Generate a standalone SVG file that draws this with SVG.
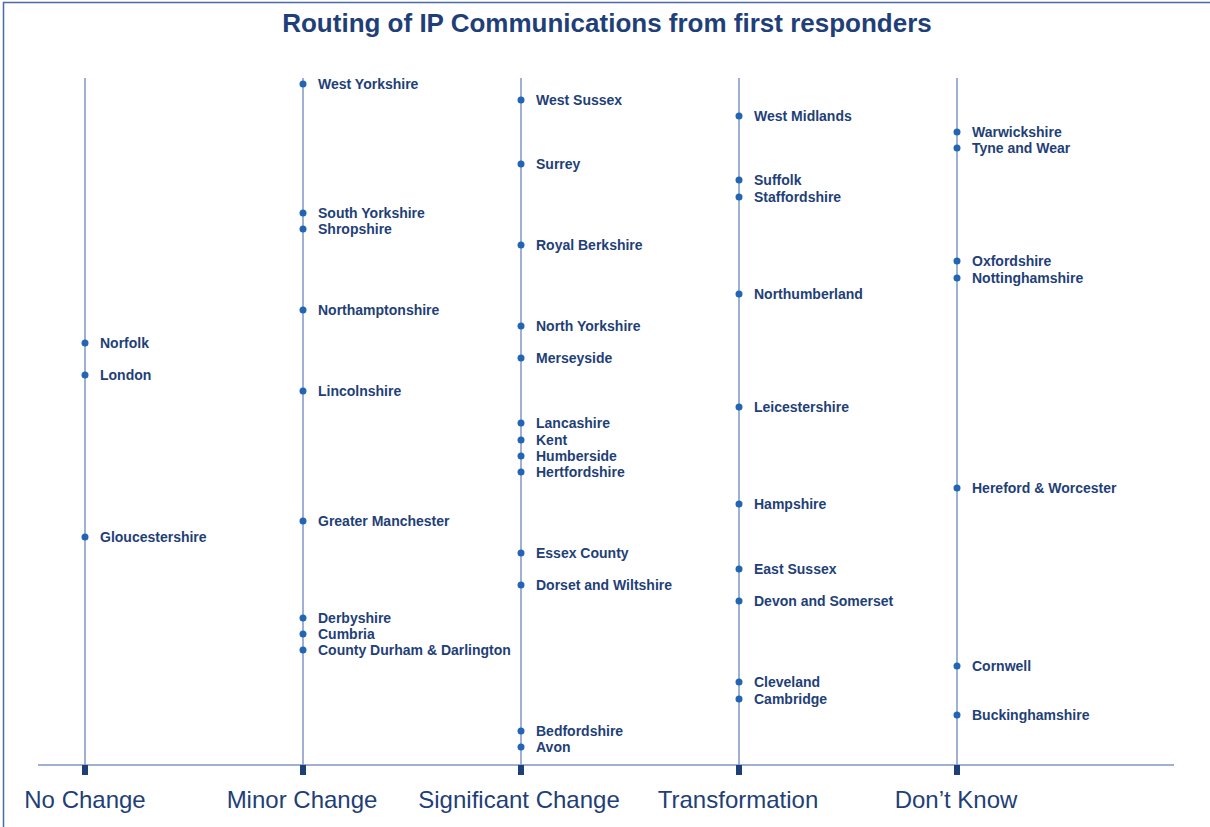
<svg xmlns="http://www.w3.org/2000/svg" width="1210" height="827" viewBox="0 0 1210 827">
<style>
.lbl{font-family:"Liberation Sans",Arial,sans-serif;font-weight:bold;font-size:14px;fill:#1f3f78}
.ax{font-family:"Liberation Sans",Arial,sans-serif;font-size:24px;fill:#1f3f78;text-anchor:middle}
.title{font-family:"Liberation Sans",Arial,sans-serif;font-weight:bold;font-size:26px;fill:#1f3f78;text-anchor:middle}
.vl{stroke:#8194c6;stroke-width:1.5}
.dot{fill:#2265b2}
.tick{fill:#1f3f78}
</style>
<rect width="1210" height="827" fill="#fff"/>
<path d="M3.5 827V2.5H1210" fill="none" stroke="#4a6aa8" stroke-width="1.5"/>
<text class="title" x="607" y="32">Routing of IP Communications from first responders</text>
<g id="connectors">
<line class="vl" x1="85" y1="78" x2="85" y2="765"/>
<line class="vl" x1="303" y1="78" x2="303" y2="765"/>
<line class="vl" x1="521" y1="78" x2="521" y2="765"/>
<line class="vl" x1="739" y1="78" x2="739" y2="765"/>
<line class="vl" x1="957" y1="78" x2="957" y2="765"/>
<line class="vl" x1="38" y1="765" x2="1174" y2="765"/>
</g>
<g id="axis">
<rect class="tick" x="82" y="765" width="6" height="10"/>
<rect class="tick" x="300" y="765" width="6" height="10"/>
<rect class="tick" x="518" y="765" width="6" height="10"/>
<rect class="tick" x="736" y="765" width="6" height="10"/>
<rect class="tick" x="954" y="765" width="6" height="10"/>
<text class="ax" x="85" y="808">No Change</text>
<text class="ax" x="302" y="808">Minor Change</text>
<text class="ax" x="519" y="808">Significant Change</text>
<text class="ax" x="738" y="808">Transformation</text>
<text class="ax" x="956" y="808">Don’t Know</text>
</g>
<g id="col-no-change">
<g id="n-norfolk"><circle class="dot" cx="85" cy="343" r="3.5"/><text class="lbl" x="100" y="348">Norfolk</text></g>
<g id="n-london"><circle class="dot" cx="85" cy="375" r="3.5"/><text class="lbl" x="100" y="380">London</text></g>
<g id="n-gloucestershire"><circle class="dot" cx="85" cy="537" r="3.5"/><text class="lbl" x="100" y="542">Gloucestershire</text></g>
</g>
<g id="col-minor">
<g id="n-westyorkshire"><circle class="dot" cx="303" cy="84" r="3.5"/><text class="lbl" x="318" y="89">West Yorkshire</text></g>
<g id="n-southyorkshire"><circle class="dot" cx="303" cy="213" r="3.5"/><text class="lbl" x="318" y="218">South Yorkshire</text></g>
<g id="n-shropshire"><circle class="dot" cx="303" cy="229" r="3.5"/><text class="lbl" x="318" y="234">Shropshire</text></g>
<g id="n-northamptonshire"><circle class="dot" cx="303" cy="310" r="3.5"/><text class="lbl" x="318" y="315">Northamptonshire</text></g>
<g id="n-lincolnshire"><circle class="dot" cx="303" cy="391" r="3.5"/><text class="lbl" x="318" y="396">Lincolnshire</text></g>
<g id="n-greatermanchester"><circle class="dot" cx="303" cy="521" r="3.5"/><text class="lbl" x="318" y="526">Greater Manchester</text></g>
<g id="n-derbyshire"><circle class="dot" cx="303" cy="618" r="3.5"/><text class="lbl" x="318" y="623">Derbyshire</text></g>
<g id="n-cumbria"><circle class="dot" cx="303" cy="634" r="3.5"/><text class="lbl" x="318" y="639">Cumbria</text></g>
<g id="n-durham"><circle class="dot" cx="303" cy="650" r="3.5"/><text class="lbl" x="318" y="655">County Durham &amp; Darlington</text></g>
</g>
<g id="col-significant">
<g id="n-westsussex"><circle class="dot" cx="521" cy="100" r="3.5"/><text class="lbl" x="536" y="105">West Sussex</text></g>
<g id="n-surrey"><circle class="dot" cx="521" cy="164" r="3.5"/><text class="lbl" x="536" y="169">Surrey</text></g>
<g id="n-royalberkshire"><circle class="dot" cx="521" cy="245" r="3.5"/><text class="lbl" x="536" y="250">Royal Berkshire</text></g>
<g id="n-northyorkshire"><circle class="dot" cx="521" cy="326" r="3.5"/><text class="lbl" x="536" y="331">North Yorkshire</text></g>
<g id="n-merseyside"><circle class="dot" cx="521" cy="358" r="3.5"/><text class="lbl" x="536" y="363">Merseyside</text></g>
<g id="n-lancashire"><circle class="dot" cx="521" cy="423" r="3.5"/><text class="lbl" x="536" y="428">Lancashire</text></g>
<g id="n-kent"><circle class="dot" cx="521" cy="440" r="3.5"/><text class="lbl" x="536" y="445">Kent</text></g>
<g id="n-humberside"><circle class="dot" cx="521" cy="456" r="3.5"/><text class="lbl" x="536" y="461">Humberside</text></g>
<g id="n-hertfordshire"><circle class="dot" cx="521" cy="472" r="3.5"/><text class="lbl" x="536" y="477">Hertfordshire</text></g>
<g id="n-essex"><circle class="dot" cx="521" cy="553" r="3.5"/><text class="lbl" x="536" y="558">Essex County</text></g>
<g id="n-dorset"><circle class="dot" cx="521" cy="585" r="3.5"/><text class="lbl" x="536" y="590">Dorset and Wiltshire</text></g>
<g id="n-bedfordshire"><circle class="dot" cx="521" cy="731" r="3.5"/><text class="lbl" x="536" y="736">Bedfordshire</text></g>
<g id="n-avon"><circle class="dot" cx="521" cy="747" r="3.5"/><text class="lbl" x="536" y="752">Avon</text></g>
</g>
<g id="col-transformation">
<g id="n-westmidlands"><circle class="dot" cx="739" cy="116" r="3.5"/><text class="lbl" x="754" y="121">West Midlands</text></g>
<g id="n-suffolk"><circle class="dot" cx="739" cy="180" r="3.5"/><text class="lbl" x="754" y="185">Suffolk</text></g>
<g id="n-staffordshire"><circle class="dot" cx="739" cy="197" r="3.5"/><text class="lbl" x="754" y="202">Staffordshire</text></g>
<g id="n-northumberland"><circle class="dot" cx="739" cy="294" r="3.5"/><text class="lbl" x="754" y="299">Northumberland</text></g>
<g id="n-leicestershire"><circle class="dot" cx="739" cy="407" r="3.5"/><text class="lbl" x="754" y="412">Leicestershire</text></g>
<g id="n-hampshire"><circle class="dot" cx="739" cy="504" r="3.5"/><text class="lbl" x="754" y="509">Hampshire</text></g>
<g id="n-eastsussex"><circle class="dot" cx="739" cy="569" r="3.5"/><text class="lbl" x="754" y="574">East Sussex</text></g>
<g id="n-devon"><circle class="dot" cx="739" cy="601" r="3.5"/><text class="lbl" x="754" y="606">Devon and Somerset</text></g>
<g id="n-cleveland"><circle class="dot" cx="739" cy="682" r="3.5"/><text class="lbl" x="754" y="687">Cleveland</text></g>
<g id="n-cambridge"><circle class="dot" cx="739" cy="699" r="3.5"/><text class="lbl" x="754" y="704">Cambridge</text></g>
</g>
<g id="col-dontknow">
<g id="n-warwickshire"><circle class="dot" cx="957" cy="132" r="3.5"/><text class="lbl" x="972" y="137">Warwickshire</text></g>
<g id="n-tyneandwear"><circle class="dot" cx="957" cy="148" r="3.5"/><text class="lbl" x="972" y="153">Tyne and Wear</text></g>
<g id="n-oxfordshire"><circle class="dot" cx="957" cy="261" r="3.5"/><text class="lbl" x="972" y="266">Oxfordshire</text></g>
<g id="n-nottinghamshire"><circle class="dot" cx="957" cy="278" r="3.5"/><text class="lbl" x="972" y="283">Nottinghamshire</text></g>
<g id="n-hereford"><circle class="dot" cx="957" cy="488" r="3.5"/><text class="lbl" x="972" y="493">Hereford &amp; Worcester</text></g>
<g id="n-cornwell"><circle class="dot" cx="957" cy="666" r="3.5"/><text class="lbl" x="972" y="671">Cornwell</text></g>
<g id="n-buckinghamshire"><circle class="dot" cx="957" cy="715" r="3.5"/><text class="lbl" x="972" y="720">Buckinghamshire</text></g>
</g>
</svg>
